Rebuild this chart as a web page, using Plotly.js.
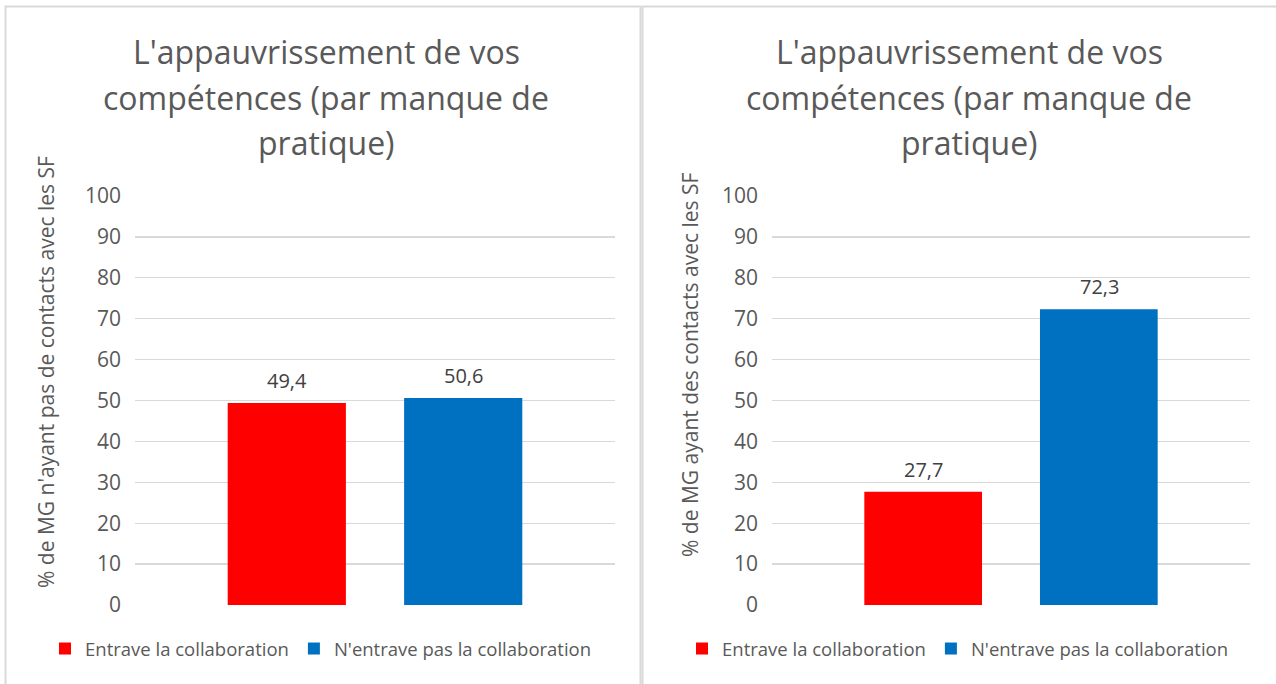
<!DOCTYPE html>
<html>
<head>
<meta charset="utf-8">
<script src="https://cdn.plot.ly/plotly-3.0.1.min.js"></script>
<style>html,body{margin:0;padding:0;background:#fff;}#chart{width:1276px;height:684px;}</style>
</head>
<body>
<div id="chart"></div>
<script>
const titleLines = ["L'appauvrissement de vos", "compétences (par manque de", "pratique)"];
const seriesNames = ["Entrave la collaboration", "N'entrave pas la collaboration"];
const seriesColors = ["#FF0000", "#0070C0"];
const category = ["Appauvrissement"];
const leftValues = [49.4, 50.6];
const rightValues = [27.7, 72.3];
const leftYTitle = "% de MG n'ayant pas de contacts avec les SF";
const rightYTitle = "% de MG ayant des contacts avec les SF";
const yTicks = [0, 10, 20, 30, 40, 50, 60, 70, 80, 90, 100];

const W = 1276, H = 684;
const px = v => v / W;
const py = v => 1 - v / H;
const FONT = 'Open Sans';

const traces = [];
const panels = [
  {values: leftValues, xa: 'x', ya: 'y', lg: 'legend'},
  {values: rightValues, xa: 'x2', ya: 'y2', lg: 'legend2'}
];
panels.forEach(p => {
  seriesNames.forEach((name, i) => {
    traces.push({
      type: 'bar', x: category, y: [p.values[i]], name: name,
      marker: {color: seriesColors[i]}, xaxis: p.xa, yaxis: p.ya, legend: p.lg,
      hoverinfo: 'skip'
    });
  });
});

const yaxisBase = {
  range: [0, 100], tickvals: yTicks, showgrid: true, gridcolor: '#D9D9D9', gridwidth: 1.3,
  zeroline: false, showline: false, ticks: '', fixedrange: true,
  tickfont: {family: FONT, size: 21, color: '#595959'}, ticklabelstandoff: 13
};
const xaxisBase = {type: 'category', range: [-0.5, 0.5], showticklabels: false, showgrid: false,
  zeroline: false, showline: false, ticks: '', fixedrange: true};

const legendBase = {
  orientation: 'h', yanchor: 'middle', xanchor: 'center',
  font: {family: FONT, size: 18.5, color: '#595959'}, bgcolor: 'rgba(0,0,0,0)',
  itemwidth: 30, tracegroupgap: 0
};

const annotations = [];
[326, 969].forEach(cx => {
  const ys = [52, 98, 142];
  titleLines.forEach((t, k) => {
    annotations.push({text: t, x: px(cx), y: py(ys[k]), xref: 'paper', yref: 'paper', showarrow: false,
      xanchor: 'center', yanchor: 'middle', font: {family: FONT, size: 32, color: '#595959'}});
  });
});
annotations.push({text: leftYTitle, x: px(46), y: py(372), xref: 'paper', yref: 'paper', showarrow: false,
  xanchor: 'center', yanchor: 'middle', textangle: -90, font: {family: FONT, size: 21, color: '#595959'}});
annotations.push({text: rightYTitle, x: px(690), y: py(365), xref: 'paper', yref: 'paper', showarrow: false,
  xanchor: 'center', yanchor: 'middle', textangle: -90, font: {family: FONT, size: 21, color: '#595959'}});
panels.forEach(p => {
  p.values.forEach((v, i) => {
    annotations.push({text: v.toFixed(1).replace('.', ','), x: category[0], y: v, xref: p.xa, yref: p.ya,
      showarrow: false, xanchor: 'center', yanchor: 'bottom', xshift: (i === 0 ? -88 : 88), yshift: 7,
      font: {family: FONT, size: 20, color: '#404040'}});
  });
});

const layout = {
  width: W, height: H, margin: {l: 0, r: 0, t: 0, b: 0},
  paper_bgcolor: '#fff', plot_bgcolor: '#fff', separators: ', ',
  barmode: 'group', bargap: 0.265, bargroupgap: 0.33,
  showlegend: true,
  xaxis: Object.assign({}, xaxisBase, {domain: [px(135), px(615)], anchor: 'y'}),
  yaxis: Object.assign({}, yaxisBase, {domain: [py(605), py(196)], anchor: 'x'}),
  xaxis2: Object.assign({}, xaxisBase, {domain: [px(772), px(1250)], anchor: 'y2'}),
  yaxis2: Object.assign({}, yaxisBase, {domain: [py(605), py(196)], anchor: 'x2'}),
  legend: Object.assign({}, legendBase, {x: px(321), y: py(649)}),
  legend2: Object.assign({}, legendBase, {x: px(958), y: py(649)}),
  annotations: annotations,
  shapes: [
    {type: 'rect', xref: 'paper', yref: 'paper', x0: px(5.5), x1: px(640.5), y0: py(700), y1: py(6.5),
     line: {color: '#D9D9D9', width: 2}},
    {type: 'rect', xref: 'paper', yref: 'paper', x0: px(642.5), x1: px(1300), y0: py(700), y1: py(6.5),
     line: {color: '#D9D9D9', width: 2}}
  ]
};

Plotly.newPlot('chart', traces, layout, {displayModeBar: false, staticPlot: true});
</script>
</body>
</html>
